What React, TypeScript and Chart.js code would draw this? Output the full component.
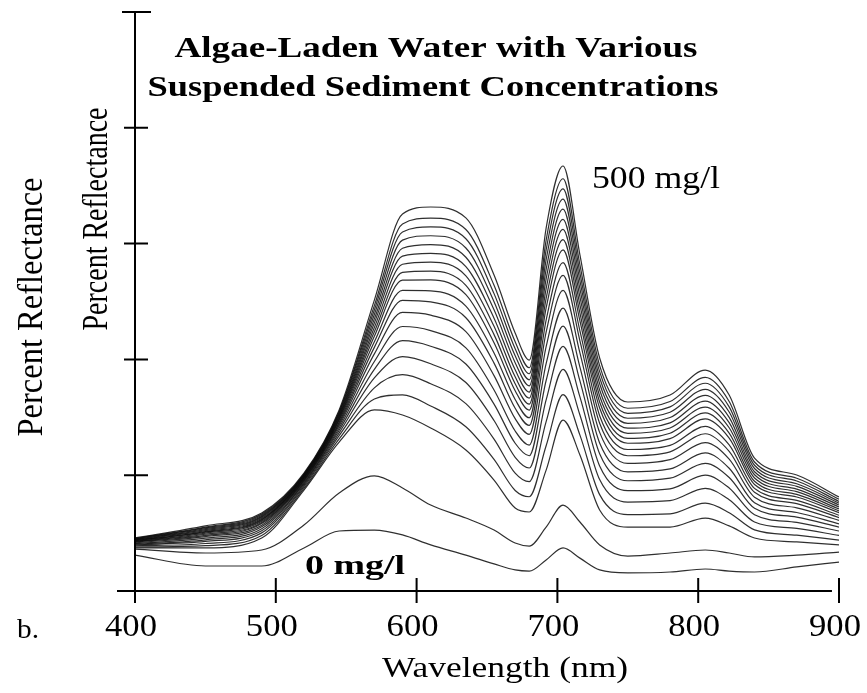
import React, { useEffect, useRef } from "react";
import { Chart, registerables } from "chart.js";

Chart.register(...registerables);

// Wavelength samples (nm)
const wavelengths = [400, 450, 490, 520, 545, 570, 590, 610, 635, 655, 670, 680, 692, 704, 716, 730, 750, 780, 805, 822, 840, 870, 900];

// Percent reflectance curves, lowest (0 mg/l) to highest (500 mg/l)
const c01 = [1.55, 1.08, 1.08, 1.86, 2.59, 2.63, 2.42, 1.99, 1.55, 1.17, 0.91, 0.86, 1.34, 1.86, 1.42, 0.91, 0.78, 0.82, 0.95, 0.86, 0.82, 1.04, 1.25];
const c02 = [1.81, 1.64, 1.77, 2.85, 4.23, 4.97, 4.45, 3.71, 3.15, 2.63, 2.07, 1.94, 2.76, 3.71, 2.98, 1.99, 1.51, 1.64, 1.77, 1.64, 1.47, 1.55, 1.68];
const c03 = [1.86, 1.86, 2.29, 4.36, 6.43, 7.82, 7.60, 7.04, 6.09, 4.79, 3.58, 3.41, 5.22, 7.38, 5.87, 3.50, 2.76, 2.76, 3.15, 2.81, 2.29, 2.12, 1.99];
const c04 = [1.90, 1.96, 2.40, 4.43, 6.57, 8.29, 8.47, 7.99, 7.09, 5.68, 4.34, 4.07, 6.27, 8.48, 6.73, 4.16, 3.30, 3.33, 3.79, 3.38, 2.64, 2.41, 2.20];
const c05 = [1.95, 2.05, 2.51, 4.51, 6.71, 8.77, 9.34, 8.95, 8.09, 6.56, 5.09, 4.72, 7.31, 9.57, 7.60, 4.81, 3.84, 3.90, 4.43, 3.94, 2.98, 2.70, 2.40];
const c06 = [1.99, 2.14, 2.60, 4.57, 6.83, 9.20, 10.12, 9.81, 9.00, 7.36, 5.77, 5.31, 8.25, 10.56, 8.38, 5.40, 4.33, 4.41, 5.00, 4.45, 3.29, 2.96, 2.59];
const c07 = [2.02, 2.21, 2.69, 4.63, 6.94, 9.57, 10.81, 10.57, 9.80, 8.07, 6.38, 5.84, 9.09, 11.44, 9.07, 5.93, 4.76, 4.87, 5.51, 4.90, 3.57, 3.19, 2.76];
const c08 = [2.05, 2.28, 2.77, 4.68, 7.04, 9.91, 11.42, 11.24, 10.50, 8.68, 6.91, 6.30, 9.82, 12.21, 9.67, 6.39, 5.14, 5.27, 5.96, 5.30, 3.81, 3.39, 2.90];
const c09 = [2.08, 2.35, 2.84, 4.73, 7.14, 10.24, 12.03, 11.91, 11.20, 9.30, 7.44, 6.76, 10.55, 12.98, 10.28, 6.85, 5.51, 5.67, 6.41, 5.69, 4.05, 3.59, 3.05];
const c10 = [2.11, 2.40, 2.91, 4.78, 7.22, 10.52, 12.55, 12.48, 11.80, 9.84, 7.89, 7.15, 11.18, 13.63, 10.80, 7.24, 5.84, 6.01, 6.79, 6.03, 4.26, 3.77, 3.17];
const c11 = [2.13, 2.45, 2.96, 4.81, 7.29, 10.76, 12.98, 12.96, 12.30, 10.28, 8.27, 7.48, 11.70, 14.18, 11.23, 7.57, 6.11, 6.29, 7.11, 6.31, 4.43, 3.91, 3.27];
const c12 = [2.15, 2.50, 3.01, 4.85, 7.36, 11.00, 13.42, 13.43, 12.80, 10.72, 8.65, 7.81, 12.22, 14.73, 11.66, 7.90, 6.38, 6.58, 7.43, 6.60, 4.60, 4.06, 3.38];
const c13 = [2.17, 2.54, 3.06, 4.88, 7.42, 11.19, 13.76, 13.81, 13.20, 11.07, 8.95, 8.07, 12.64, 15.17, 12.00, 8.16, 6.59, 6.81, 7.69, 6.82, 4.74, 4.17, 3.46];
const c14 = [2.18, 2.57, 3.10, 4.91, 7.47, 11.38, 14.11, 14.20, 13.61, 11.43, 9.25, 8.33, 13.06, 15.61, 12.35, 8.42, 6.81, 7.04, 7.94, 7.05, 4.88, 4.29, 3.54];
const c15 = [2.20, 2.61, 3.14, 4.94, 7.53, 11.57, 14.46, 14.58, 14.01, 11.78, 9.55, 8.59, 13.48, 16.05, 12.70, 8.68, 7.03, 7.26, 8.20, 7.27, 5.02, 4.40, 3.63];
const c16 = [2.22, 2.65, 3.19, 4.97, 7.58, 11.75, 14.80, 14.96, 14.41, 12.14, 9.86, 8.86, 13.89, 16.49, 13.04, 8.95, 7.24, 7.49, 8.45, 7.50, 5.15, 4.52, 3.71];
const c17 = [2.23, 2.69, 3.23, 5.00, 7.64, 11.94, 15.15, 15.34, 14.81, 12.49, 10.16, 9.12, 14.31, 16.92, 13.39, 9.21, 7.46, 7.72, 8.71, 7.73, 5.29, 4.63, 3.79];
const c18 = [2.25, 2.73, 3.27, 5.02, 7.70, 12.13, 15.50, 15.72, 15.21, 12.84, 10.46, 9.38, 14.73, 17.36, 13.73, 9.47, 7.67, 7.95, 8.97, 7.95, 5.43, 4.75, 3.87];
const c19 = [2.27, 2.76, 3.32, 5.05, 7.75, 12.32, 15.85, 16.10, 15.61, 13.20, 10.76, 9.64, 15.15, 17.80, 14.08, 9.73, 7.89, 8.18, 9.22, 8.18, 5.57, 4.87, 3.96];
const c20 = [2.29, 2.81, 3.37, 5.09, 7.82, 12.56, 16.28, 16.58, 16.11, 13.64, 11.14, 9.97, 15.67, 18.35, 14.51, 10.06, 8.16, 8.46, 9.54, 8.46, 5.74, 5.01, 4.06];

const curves = [c01, c02, c03, c04, c05, c06, c07, c08, c09, c10, c11, c12, c13, c14, c15, c16, c17, c18, c19, c20];

const xTicks = [400, 500, 600, 700, 800, 900];
const yTicks = [0, 5, 10, 15, 20, 25];

const titleLine1 = "Algae-Laden Water with Various";
const titleLine2 = "Suspended Sediment Concentrations";
const xTitle = "Wavelength (nm)";
const yTitle = "Percent Reflectance";
const labelHigh = "500 mg/l";
const labelLow = "0 mg/l";
const panelLabel = "b.";

function fitText(
  ctx: CanvasRenderingContext2D,
  text: string,
  cx: number,
  baseline: number,
  font: string,
  width: number,
  angle = 0
) {
  ctx.save();
  ctx.font = font;
  const w = ctx.measureText(text).width;
  ctx.translate(cx, baseline);
  if (angle) ctx.rotate(angle);
  ctx.scale(width / w, 1);
  ctx.textAlign = "center";
  ctx.textBaseline = "alphabetic";
  ctx.fillStyle = "#000";
  ctx.fillText(text, 0, 0);
  ctx.restore();
}

const decorPlugin = {
  id: "decor",
  afterDraw(chart: any) {
    const ctx: CanvasRenderingContext2D = chart.ctx;
    const xs = chart.scales.x;
    const ys = chart.scales.y;
    const px = (v: number) => xs.getPixelForValue(v);
    const py = (v: number) => ys.getPixelForValue(v);
    ctx.save();
    ctx.strokeStyle = "#000";
    ctx.lineWidth = 2;
    ctx.lineCap = "butt";
    const x0 = px(400);
    const y0 = py(0);
    // y axis
    ctx.beginPath();
    ctx.moveTo(x0, py(25));
    ctx.lineTo(x0, y0 + 12);
    // top cap
    ctx.moveTo(x0 - 13, py(25));
    ctx.lineTo(x0 + 16, py(25));
    // y ticks
    yTicks.slice(1, -1).forEach((v) => {
      ctx.moveTo(x0 - 11, py(v));
      ctx.lineTo(x0 + 13, py(v));
    });
    // x axis
    ctx.moveTo(x0 - 18, y0);
    ctx.lineTo(px(895), y0);
    xTicks.slice(1).forEach((v) => {
      ctx.moveTo(px(v), y0 - 13);
      ctx.lineTo(px(v), y0 + 12);
    });
    ctx.stroke();
    ctx.restore();

    // tick labels
    xTicks.forEach((v) => {
      fitText(ctx, String(v), px(v) - 4, 636, "31px 'Liberation Serif'", 52);
    });

    // titles
    fitText(ctx, titleLine1, 436, 57, "bold 30px 'Liberation Serif'", 523);
    fitText(ctx, titleLine2, 433, 96, "bold 30px 'Liberation Serif'", 571);
    fitText(ctx, xTitle, 505, 677, "30px 'Liberation Serif'", 246);
    fitText(ctx, yTitle, 42, 307, "35px 'Liberation Serif'", 259, -Math.PI / 2);
    fitText(ctx, yTitle, 107, 219, "35px 'Liberation Serif'", 223, -Math.PI / 2);
    fitText(ctx, labelHigh, 656, 188, "31px 'Liberation Serif'", 128);
    fitText(ctx, labelLow, 355, 574, "bold 28px 'Liberation Serif'", 100);
    fitText(ctx, panelLabel, 28, 638, "28px 'Liberation Serif'", 22);
  },
};

export default function App() {
  const ref = useRef<HTMLCanvasElement | null>(null);
  useEffect(() => {
    if (!ref.current) return;
    const chart = new Chart(ref.current, {
      type: "line",
      data: {
        datasets: curves.map((arr, i) => ({
          label: i === 0 ? labelLow : i === curves.length - 1 ? labelHigh : `Sample ${i + 1}`,
          data: wavelengths.map((w, j) => ({ x: w, y: arr[j] })),
          borderColor: "rgba(10,10,10,0.85)",
          borderWidth: 1.2,
          pointRadius: 0,
          fill: false,
          cubicInterpolationMode: "monotone" as const,
        })),
      },
      options: {
        animation: false,
        responsive: true,
        maintainAspectRatio: false,
        layout: { padding: { left: 135, right: 28, top: 12, bottom: 102 } },
        plugins: { legend: { display: false }, tooltip: { enabled: false }, title: { display: false } },
        scales: {
          x: { type: "linear", min: 400, max: 900, display: false },
          y: { type: "linear", min: 0, max: 25, display: false },
        },
      },
      plugins: [decorPlugin],
    });
    return () => chart.destroy();
  }, []);
  return (
    <div style={{ position: "absolute", left: 0, top: 0, width: 867, height: 693, background: "#fff" }}>
      <canvas ref={ref} />
    </div>
  );
}
